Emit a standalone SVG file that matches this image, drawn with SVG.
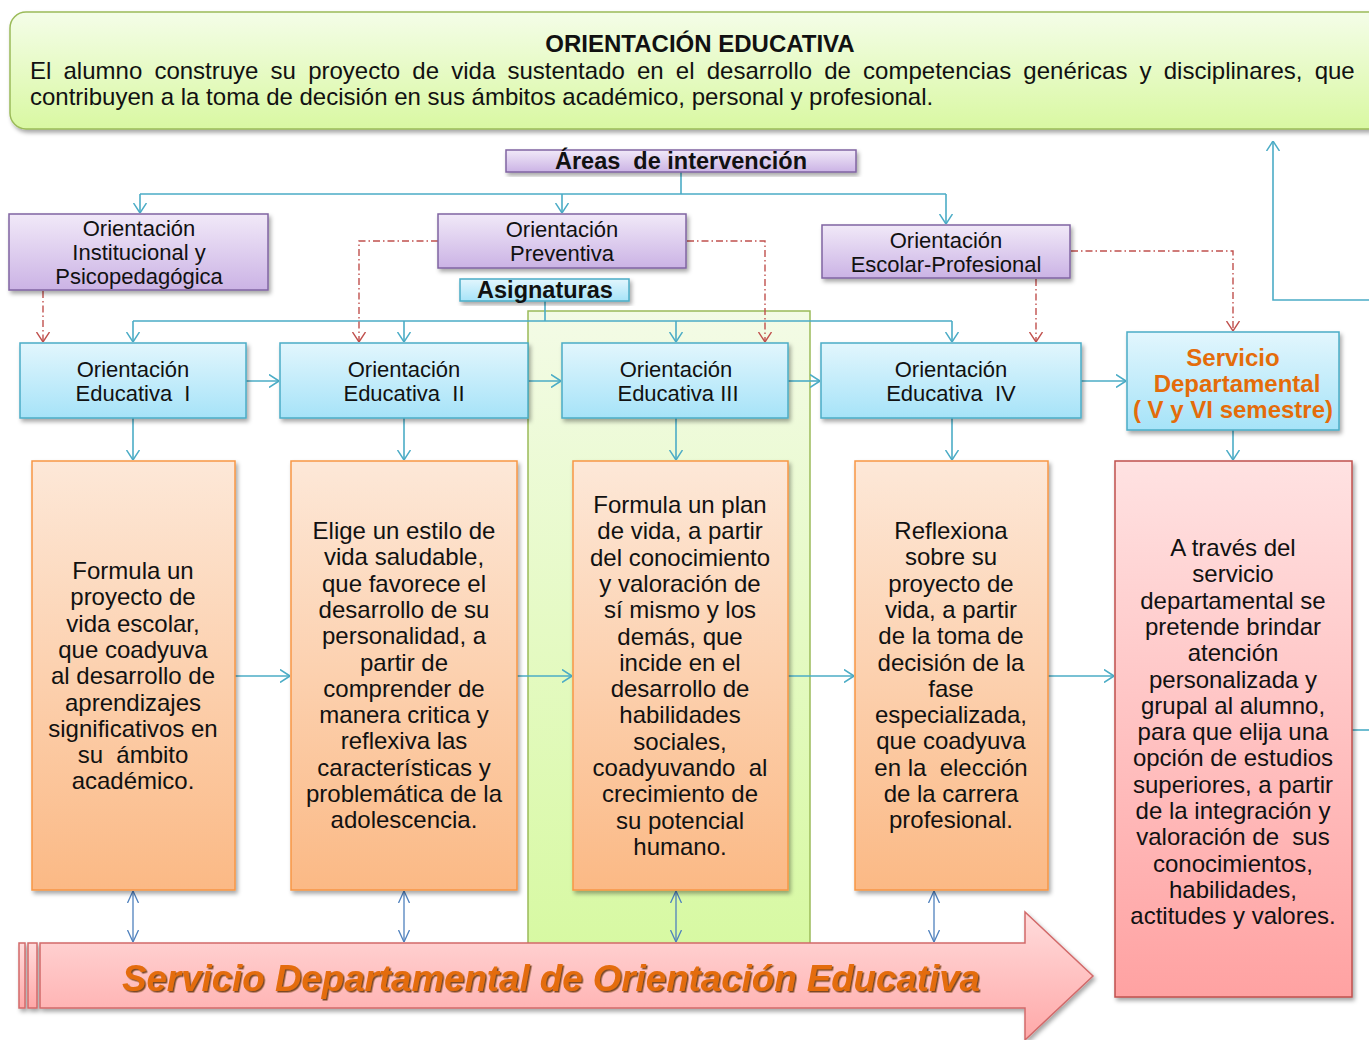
<svg xmlns="http://www.w3.org/2000/svg" width="1369" height="1040" viewBox="0 0 1369 1040" xml:space="preserve">
<defs>
<style>
.t{font-family:"Liberation Sans",Arial,sans-serif;fill:#111;text-anchor:middle;white-space:pre}
.b{font-weight:bold}
.c{fill:none;stroke:#4bacc6;stroke-width:1.6}
.r{fill:none;stroke:#c0504d;stroke-width:1.4;stroke-dasharray:7,3,1.5,3}
.d{fill:none;stroke:#4f81bd;stroke-width:1.3}
.pu{fill:url(#gPu);stroke:#8064a2;stroke-width:1.5}
.bl{fill:url(#gBl);stroke:#4bacc6;stroke-width:1.5}
.or{fill:url(#gOr);stroke:#f79646;stroke-width:1.5}
.pk{fill:url(#gPk);stroke:#c0504d;stroke-width:1.5}
</style>
<linearGradient id="gPu" x1="0" y1="0" x2="0" y2="1"><stop offset="0" stop-color="#f1e9f8"/><stop offset="1" stop-color="#cbb3e5"/></linearGradient>
<linearGradient id="gBl" x1="0" y1="0" x2="0" y2="1"><stop offset="0" stop-color="#e2f6fd"/><stop offset="1" stop-color="#a6e3f8"/></linearGradient>
<linearGradient id="gOr" x1="0" y1="0" x2="0" y2="1"><stop offset="0" stop-color="#fde8d8"/><stop offset="1" stop-color="#fbb985"/></linearGradient>
<linearGradient id="gPk" x1="0" y1="0" x2="0" y2="1"><stop offset="0" stop-color="#ffe2e2"/><stop offset="1" stop-color="#ffa2a2"/></linearGradient>
<linearGradient id="gGr" x1="0" y1="0" x2="0" y2="1"><stop offset="0" stop-color="#f4fde8"/><stop offset="1" stop-color="#d9f8a2"/></linearGradient>
<linearGradient id="gCol" x1="0" y1="0" x2="0" y2="1"><stop offset="0" stop-color="#f3fbe6"/><stop offset="1" stop-color="#d7f9a2"/></linearGradient>
<linearGradient id="gAr" x1="0" y1="0" x2="0" y2="1"><stop offset="0" stop-color="#ffdcdc"/><stop offset="1" stop-color="#ffa8a8"/></linearGradient>
<filter id="sh" x="-10%" y="-10%" width="125%" height="130%"><feDropShadow dx="2" dy="3" stdDeviation="2" flood-color="#000" flood-opacity="0.35"/></filter>
<filter id="tsh" x="-5%" y="-20%" width="110%" height="150%"><feDropShadow dx="1.5" dy="1.5" stdDeviation="0.6" flood-color="#5a2a00" flood-opacity="0.8"/></filter>
<marker id="ab" viewBox="0 0 10 14" refX="10" refY="7" markerWidth="10" markerHeight="14" markerUnits="userSpaceOnUse" orient="auto"><path d="M0,0.5 L10,7 L0,13.5" fill="none" stroke="#4bacc6" stroke-width="1.5"/></marker>
<marker id="ar" viewBox="0 0 10 14" refX="10" refY="7" markerWidth="10" markerHeight="14" markerUnits="userSpaceOnUse" orient="auto"><path d="M0,0.5 L10,7 L0,13.5" fill="none" stroke="#c0504d" stroke-width="1.4"/></marker>
<marker id="ad" viewBox="0 0 12 12" refX="12" refY="6" markerWidth="12" markerHeight="12" markerUnits="userSpaceOnUse" orient="auto-start-reverse"><path d="M0,0.5 L12,6 L0,11.5" fill="none" stroke="#4f81bd" stroke-width="1.3"/></marker>
</defs>
<rect width="1369" height="1040" fill="#fff"/>

<g id="header">
<rect x="10" y="12" width="1380" height="117" rx="16" fill="url(#gGr)" stroke="#9bbb59" stroke-width="1.5" filter="url(#sh)"/>
<text class="t b" x="700" y="52" font-size="24">ORIENTACIÓN EDUCATIVA</text>
<text class="t" x="30" y="79" font-size="24" style="text-anchor:start" word-spacing="5.5">El alumno construye su proyecto de vida sustentado en el desarrollo de competencias genéricas y disciplinares, que</text>
<text class="t" x="30" y="105" font-size="24" style="text-anchor:start">contribuyen a la toma de decisión en sus ámbitos académico, personal y profesional.</text>
</g>

<g id="column-green">
<rect x="528" y="311" width="282" height="640" fill="url(#gCol)" stroke="#9bbb59" stroke-width="1.5"/>
</g>

<g id="connectors">
<path class="c" d="M681,172 V194 M140,194 H946"/>
<path class="c" d="M140,194 V213" marker-end="url(#ab)"/>
<path class="c" d="M562,194 V213" marker-end="url(#ab)"/>
<path class="c" d="M946,194 V224" marker-end="url(#ab)"/>
<path class="c" d="M545,301 V321 M133,321 H952"/>
<path class="c" d="M133,321 V342" marker-end="url(#ab)"/>
<path class="c" d="M404,321 V342" marker-end="url(#ab)"/>
<path class="c" d="M676,321 V342" marker-end="url(#ab)"/>
<path class="c" d="M952,321 V342" marker-end="url(#ab)"/>
<path class="r" d="M43,291 V342" marker-end="url(#ar)"/>
<path class="r" d="M438,241 H359 V342" marker-end="url(#ar)"/>
<path class="r" d="M687,241 H765 V342" marker-end="url(#ar)"/>
<path class="r" d="M1036,279 V342" marker-end="url(#ar)"/>
<path class="r" d="M1071,251 H1233 V331" marker-end="url(#ar)"/>
<path class="c" d="M246,381 H279" marker-end="url(#ab)"/>
<path class="c" d="M528,381 H561" marker-end="url(#ab)"/>
<path class="c" d="M788,381 H820" marker-end="url(#ab)"/>
<path class="c" d="M1081,381 H1126" marker-end="url(#ab)"/>
<path class="c" d="M133,418 V460" marker-end="url(#ab)"/>
<path class="c" d="M404,418 V460" marker-end="url(#ab)"/>
<path class="c" d="M676,418 V460" marker-end="url(#ab)"/>
<path class="c" d="M952,418 V460" marker-end="url(#ab)"/>
<path class="c" d="M1233,430 V460" marker-end="url(#ab)"/>
<path class="c" d="M235,676 H290" marker-end="url(#ab)"/>
<path class="c" d="M517,676 H572" marker-end="url(#ab)"/>
<path class="c" d="M788,676 H854" marker-end="url(#ab)"/>
<path class="c" d="M1048,676 H1114" marker-end="url(#ab)"/>
<path class="c" d="M1352,730 H1369"/>
<path class="c" d="M1369,300 H1273 V141" marker-end="url(#ab)"/>
<path class="d" d="M133,891 V942" marker-start="url(#ad)" marker-end="url(#ad)"/>
<path class="d" d="M404,891 V942" marker-start="url(#ad)" marker-end="url(#ad)"/>
<path class="d" d="M676,891 V942" marker-start="url(#ad)" marker-end="url(#ad)"/>
<path class="d" d="M934,891 V942" marker-start="url(#ad)" marker-end="url(#ad)"/>
</g>

<g id="areas">
<rect class="pu" x="506" y="150" width="350" height="22" filter="url(#sh)"/>
<text class="t b" x="681" y="169" font-size="23.5">Áreas  de intervención</text>
</g>
<g id="inst">
<rect class="pu" x="9" y="214" width="259" height="76" filter="url(#sh)"/>
<text class="t" x="139" y="236" font-size="22">Orientación</text>
<text class="t" x="139" y="260" font-size="22">Institucional y</text>
<text class="t" x="139" y="284" font-size="22">Psicopedagógica</text>
</g>
<g id="prev">
<rect class="pu" x="438" y="214" width="248" height="54" filter="url(#sh)"/>
<text class="t" x="562" y="237" font-size="22">Orientación</text>
<text class="t" x="562" y="261" font-size="22">Preventiva</text>
</g>
<g id="escolar">
<rect class="pu" x="822" y="225" width="248" height="53" filter="url(#sh)"/>
<text class="t" x="946" y="248" font-size="22">Orientación</text>
<text class="t" x="946" y="272" font-size="22">Escolar-Profesional</text>
</g>
<g id="asig">
<rect class="bl" x="460" y="279" width="169" height="22" filter="url(#sh)"/>
<text class="t b" x="545" y="298" font-size="23.5">Asignaturas</text>
</g>

<g id="oe1">
<rect class="bl" x="20" y="343" width="226" height="75" filter="url(#sh)"/>
<text class="t" x="133" y="377" font-size="22">Orientación</text>
<text class="t" x="133" y="401" font-size="22">Educativa  I</text>
</g>
<g id="oe2">
<rect class="bl" x="280" y="343" width="248" height="75" filter="url(#sh)"/>
<text class="t" x="404" y="377" font-size="22">Orientación</text>
<text class="t" x="404" y="401" font-size="22">Educativa  II</text>
</g>
<g id="oe3">
<rect class="bl" x="562" y="343" width="226" height="75" filter="url(#sh)"/>
<text class="t" x="676" y="377" font-size="22">Orientación</text>
<text class="t" x="678" y="401" font-size="22">Educativa III</text>
</g>
<g id="oe4">
<rect class="bl" x="821" y="343" width="260" height="75" filter="url(#sh)"/>
<text class="t" x="951" y="377" font-size="22">Orientación</text>
<text class="t" x="951" y="401" font-size="22">Educativa  IV</text>
</g>
<g id="servicio">
<rect class="bl" x="1127" y="332" width="212" height="98" filter="url(#sh)"/>
<text class="t b" x="1233" y="366" font-size="24" style="fill:#e46c0a">Servicio</text>
<text class="t b" x="1237" y="392" font-size="24" style="fill:#e46c0a">Departamental</text>
<text class="t b" x="1233" y="418" font-size="24" style="fill:#e46c0a">( V y VI semestre)</text>
</g>

<g id="box1">
<rect class="or" x="32" y="461" width="203" height="429" filter="url(#sh)"/>
<text class="t" font-size="24"><tspan x="133" y="579">Formula un</tspan><tspan x="133" dy="26.3">proyecto de</tspan><tspan x="133" dy="26.3">vida escolar,</tspan><tspan x="133" dy="26.3">que coadyuva</tspan><tspan x="133" dy="26.3">al desarrollo de</tspan><tspan x="133" dy="26.3">aprendizajes</tspan><tspan x="133" dy="26.3">significativos en</tspan><tspan x="133" dy="26.3">su  ámbito</tspan><tspan x="133" dy="26.3">académico.</tspan></text>
</g>
<g id="box2">
<rect class="or" x="291" y="461" width="226" height="429" filter="url(#sh)"/>
<text class="t" font-size="24"><tspan x="404" y="539">Elige un estilo de</tspan><tspan x="404" dy="26.3">vida saludable,</tspan><tspan x="404" dy="26.3">que favorece el</tspan><tspan x="404" dy="26.3">desarrollo de su</tspan><tspan x="404" dy="26.3">personalidad, a</tspan><tspan x="404" dy="26.3">partir de</tspan><tspan x="404" dy="26.3">comprender de</tspan><tspan x="404" dy="26.3">manera critica y</tspan><tspan x="404" dy="26.3">reflexiva las</tspan><tspan x="404" dy="26.3">características y</tspan><tspan x="404" dy="26.3">problemática de la</tspan><tspan x="404" dy="26.3">adolescencia.</tspan></text>
</g>
<g id="box3">
<rect class="or" x="573" y="461" width="215" height="429" filter="url(#sh)"/>
<text class="t" font-size="24"><tspan x="680" y="513">Formula un plan</tspan><tspan x="680" dy="26.3">de vida, a partir</tspan><tspan x="680" dy="26.3">del conocimiento</tspan><tspan x="680" dy="26.3">y valoración de</tspan><tspan x="680" dy="26.3">sí mismo y los</tspan><tspan x="680" dy="26.3">demás, que</tspan><tspan x="680" dy="26.3">incide en el</tspan><tspan x="680" dy="26.3">desarrollo de</tspan><tspan x="680" dy="26.3">habilidades</tspan><tspan x="680" dy="26.3">sociales,</tspan><tspan x="680" dy="26.3">coadyuvando  al</tspan><tspan x="680" dy="26.3">crecimiento de</tspan><tspan x="680" dy="26.3">su potencial</tspan><tspan x="680" dy="26.3">humano.</tspan></text>
</g>
<g id="box4">
<rect class="or" x="855" y="461" width="193" height="429" filter="url(#sh)"/>
<text class="t" font-size="24"><tspan x="951" y="539">Reflexiona</tspan><tspan x="951" dy="26.3">sobre su</tspan><tspan x="951" dy="26.3">proyecto de</tspan><tspan x="951" dy="26.3">vida, a partir</tspan><tspan x="951" dy="26.3">de la toma de</tspan><tspan x="951" dy="26.3">decisión de la</tspan><tspan x="951" dy="26.3">fase</tspan><tspan x="951" dy="26.3">especializada,</tspan><tspan x="951" dy="26.3">que coadyuva</tspan><tspan x="951" dy="26.3">en la  elección</tspan><tspan x="951" dy="26.3">de la carrera</tspan><tspan x="951" dy="26.3">profesional.</tspan></text>
</g>
<g id="box5">
<rect class="pk" x="1115" y="461" width="237" height="536" filter="url(#sh)"/>
<text class="t" font-size="24"><tspan x="1233" y="556">A través del</tspan><tspan x="1233" dy="26.3">servicio</tspan><tspan x="1233" dy="26.3">departamental se</tspan><tspan x="1233" dy="26.3">pretende brindar</tspan><tspan x="1233" dy="26.3">atención</tspan><tspan x="1233" dy="26.3">personalizada y</tspan><tspan x="1233" dy="26.3">grupal al alumno,</tspan><tspan x="1233" dy="26.3">para que elija una</tspan><tspan x="1233" dy="26.3">opción de estudios</tspan><tspan x="1233" dy="26.3">superiores, a partir</tspan><tspan x="1233" dy="26.3">de la integración y</tspan><tspan x="1233" dy="26.3">valoración de  sus</tspan><tspan x="1233" dy="26.3">conocimientos,</tspan><tspan x="1233" dy="26.3">habilidades,</tspan><tspan x="1233" dy="26.3">actitudes y valores.</tspan></text>
</g>

<g id="big-arrow">
<g fill="url(#gAr)" stroke="#d26a6a" stroke-width="1.5" filter="url(#sh)">
<rect x="19" y="943" width="6" height="65"/>
<rect x="28" y="943" width="9" height="65"/>
<path d="M40,943 H1025 V912 L1093,976 L1025,1040 V1008 H40 Z"/>
</g>
<text class="t b" x="551" y="991" font-size="36" font-style="italic" style="fill:#e46c0a" filter="url(#tsh)" textLength="858" lengthAdjust="spacingAndGlyphs">Servicio Departamental de Orientación Educativa</text>
</g>
</svg>
